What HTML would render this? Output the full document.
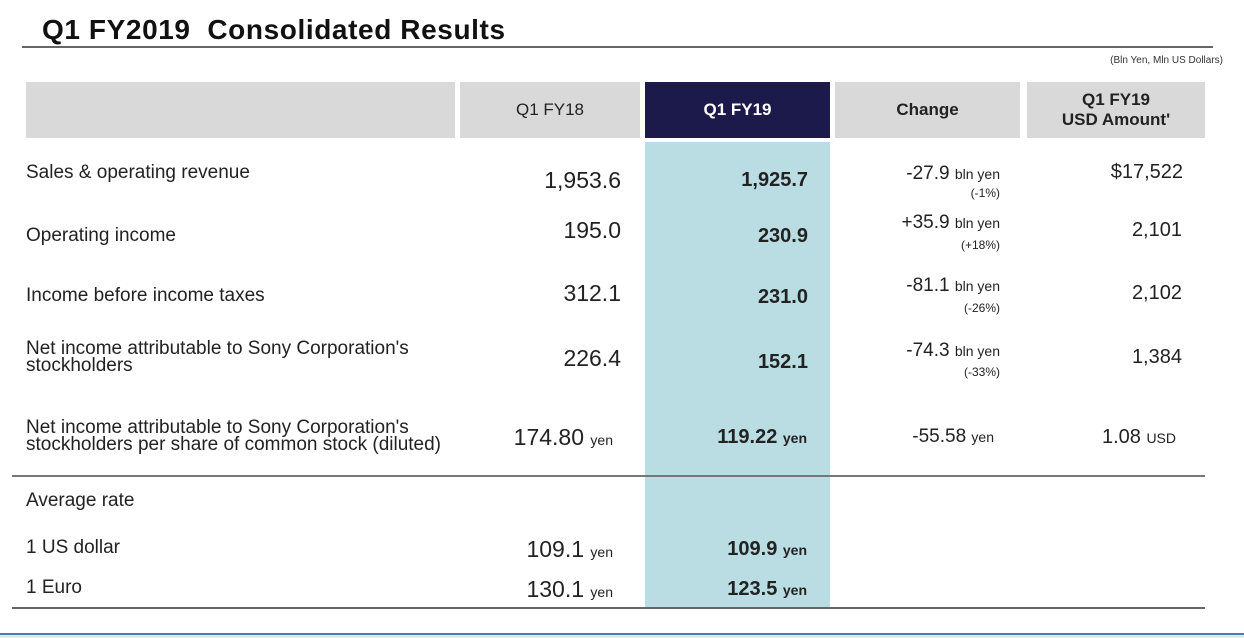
<!DOCTYPE html>
<html><head><meta charset="utf-8"><style>
body{margin:0;width:1244px;height:638px;background:#fff;position:relative;overflow:hidden;font-family:"Liberation Sans",Arial,sans-serif;color:#222}
.a{position:absolute;white-space:nowrap;line-height:24px}
.l{font-size:19px}
.v{font-size:20px;text-align:right}
.q{font-size:23px}
.b{font-weight:bold}
.s{font-size:14px}
.hd{position:absolute;top:82px;height:56px;background:#d9d9d9;display:flex;align-items:center;justify-content:center;text-align:center;font-size:17px;line-height:20px}
</style></head><body>
<div class="a b" style="left:42px;top:13px;font-size:28px;line-height:34px;color:#111;letter-spacing:0.6px">Q1 FY2019&nbsp; Consolidated Results</div>
<div style="position:absolute;left:22px;top:46px;width:1191px;height:2px;background:#666"></div>
<div class="a" style="right:21px;top:54px;font-size:10px;line-height:14px;color:#333">(Bln Yen, Mln US Dollars)</div>
<div class="hd" style="left:26px;width:429px"></div>
<div class="hd" style="left:460px;width:180px">Q1 FY18</div>
<div class="hd b" style="left:645px;width:185px;background:#1c1a4a;color:#fff">Q1 FY19</div>
<div class="hd b" style="left:835px;width:185px">Change</div>
<div class="hd b" style="left:1027px;width:178px">Q1 FY19<br>USD Amount'</div>
<div style="position:absolute;left:645px;top:142px;width:185px;height:466px;background:#b9dde2"></div>
<div style="position:absolute;left:12px;top:475px;width:1193px;height:2px;background:#777"></div>
<div style="position:absolute;left:12px;top:607px;width:1193px;height:2px;background:#666"></div>
<div style="position:absolute;left:0;top:633px;width:1244px;height:2px;background:#4a7cc0"></div>
<div style="position:absolute;left:0;top:635px;width:1244px;height:3px;background:#dcefd8"></div>

<div class="a l" style="left:26px;top:161px">Sales &amp; operating revenue</div>
<div class="a l" style="left:26px;top:224px">Operating income</div>
<div class="a l" style="left:26px;top:284px">Income before income taxes</div>
<div class="a l" style="left:26px;top:340px;line-height:17px">Net income attributable to Sony Corporation's<br>stockholders</div>
<div class="a l" style="left:26px;top:419px;line-height:17px">Net income attributable to Sony Corporation's<br>stockholders per share of common stock (diluted)</div>
<div class="a l" style="left:26px;top:489px">Average rate</div>
<div class="a l" style="left:26px;top:536px">1 US dollar</div>
<div class="a l" style="left:26px;top:576px">1 Euro</div>

<div class="a v q" style="right:623px;top:168px">1,953.6</div>
<div class="a v q" style="right:623px;top:218px">195.0</div>
<div class="a v q" style="right:623px;top:281px">312.1</div>
<div class="a v q" style="right:623px;top:346px">226.4</div>
<div class="a v q" style="right:631px;top:425px">174.80 <span class="s">yen</span></div>
<div class="a v q" style="right:631px;top:537px">109.1 <span class="s">yen</span></div>
<div class="a v q" style="right:631px;top:577px">130.1 <span class="s">yen</span></div>

<div class="a v b" style="right:436px;top:168px">1,925.7</div>
<div class="a v b" style="right:436px;top:224px">230.9</div>
<div class="a v b" style="right:436px;top:285px">231.0</div>
<div class="a v b" style="right:436px;top:350px">152.1</div>
<div class="a v b" style="right:437px;top:425px">119.22 <span class="s">yen</span></div>
<div class="a v b" style="right:437px;top:537px">109.9 <span class="s">yen</span></div>
<div class="a v b" style="right:437px;top:577px">123.5 <span class="s">yen</span></div>

<div class="a" style="right:244px;top:162px;font-size:19px">-27.9 <span class="s">bln yen</span></div>
<div class="a" style="right:244px;top:183px;font-size:12px;line-height:20px">(-1%)</div>
<div class="a" style="right:244px;top:211px;font-size:19px">+35.9 <span class="s">bln yen</span></div>
<div class="a" style="right:244px;top:235px;font-size:12px;line-height:20px">(+18%)</div>
<div class="a" style="right:244px;top:274px;font-size:19px">-81.1 <span class="s">bln yen</span></div>
<div class="a" style="right:244px;top:298px;font-size:12px;line-height:20px">(-26%)</div>
<div class="a" style="right:244px;top:339px;font-size:19px">-74.3 <span class="s">bln yen</span></div>
<div class="a" style="right:244px;top:362px;font-size:12px;line-height:20px">(-33%)</div>
<div class="a" style="right:250px;top:425px;font-size:19px">-55.58 <span class="s">yen</span></div>

<div class="a v" style="right:61px;top:160px">$17,522</div>
<div class="a v" style="right:62px;top:218px">2,101</div>
<div class="a v" style="right:62px;top:281px">2,102</div>
<div class="a v" style="right:62px;top:345px">1,384</div>
<div class="a v" style="right:68px;top:425px">1.08 <span class="s">USD</span></div>
</body></html>
